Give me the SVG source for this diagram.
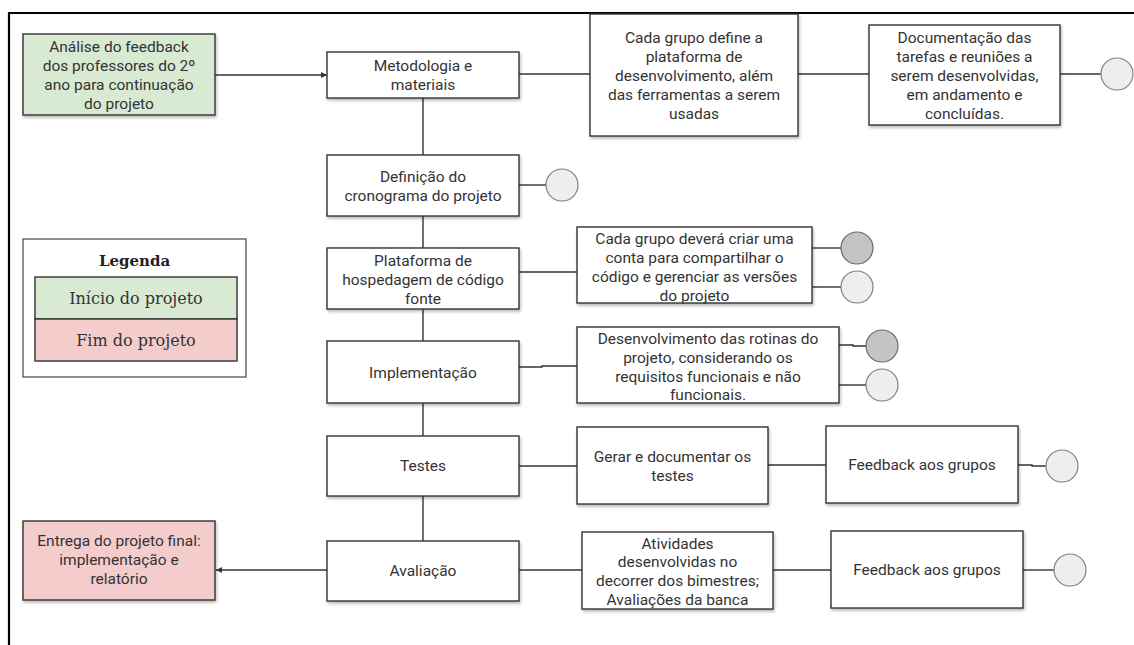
<svg xmlns="http://www.w3.org/2000/svg" width="1134" height="645" viewBox="0 0 1134 645">
<style>
  .box { fill: #ffffff; stroke: #333333; stroke-width: 1.4; filter: url(#sh); }
  .start { fill: #d9ead3; stroke: #333333; stroke-width: 1.4; filter: url(#sh); }
  .end { fill: #f4cccc; stroke: #333333; stroke-width: 1.4; filter: url(#sh); }
  .t { font-family: Roboto, "Liberation Sans", sans-serif; font-size: 15.5px; fill: #333333; text-anchor: middle; }
  .lg { font-family: "DejaVu Serif", "Liberation Serif", serif; font-size: 16px; fill: #333333; text-anchor: middle; }
  .lgb { font-family: "DejaVu Serif", "Liberation Serif", serif; font-size: 15px; font-weight: bold; fill: #222222; text-anchor: middle; }
  .c { fill: none; stroke: #333333; stroke-width: 1.4; }
  .cl { fill: #eeeeee; stroke: #808080; stroke-width: 1.2; }
  .cd { fill: #c4c4c4; stroke: #6a6a6a; stroke-width: 1.2; }
  .frame { fill: none; stroke: #000000; stroke-width: 2.2; }
</style>
<defs>
  <filter id="sh" x="-10%" y="-10%" width="130%" height="140%">
    <feDropShadow dx="1" dy="2" stdDeviation="1.5" flood-color="#000000" flood-opacity="0.28"/>
  </filter>
  <marker id="arr" viewBox="0 0 8 8" refX="8" refY="4" markerWidth="6" markerHeight="6" orient="auto" markerUnits="userSpaceOnUse">
    <path d="M0,0 L8,4 L0,8 z" fill="#333333"/>
  </marker>
</defs>
<rect x="0" y="0" width="1134" height="645" fill="#ffffff"/>
<path class="frame" d="M9,645 L9,13 L1134,13"/>

<g id="connectors">
  <line class="c" x1="215" y1="75" x2="327" y2="75" marker-end="url(#arr)"/>
  <line class="c" x1="519" y1="74" x2="590" y2="74"/>
  <line class="c" x1="798" y1="74" x2="869" y2="74"/>
  <line class="c" x1="1060" y1="74" x2="1101" y2="74"/>
  <line class="c" x1="423" y1="98" x2="423" y2="155"/>
  <line class="c" x1="519" y1="185" x2="546" y2="185"/>
  <line class="c" x1="423" y1="216" x2="423" y2="248"/>
  <line class="c" x1="519" y1="272" x2="577" y2="272"/>
  <line class="c" x1="812" y1="248" x2="841" y2="248"/>
  <line class="c" x1="812" y1="287" x2="841" y2="287"/>
  <line class="c" x1="423" y1="309" x2="423" y2="341"/>
  <path class="c" d="M519,367 L542,367 L542,366 L577,366"/>
  <path class="c" d="M839,345 L853,345 L853,346 L866,346"/>
  <line class="c" x1="839" y1="385" x2="866" y2="385"/>
  <line class="c" x1="423" y1="403" x2="423" y2="436"/>
  <line class="c" x1="519" y1="466" x2="577" y2="466"/>
  <line class="c" x1="768" y1="465" x2="826" y2="465"/>
  <path class="c" d="M1018,465 L1032,465 L1032,466 L1046,466"/>
  <line class="c" x1="423" y1="496" x2="423" y2="541"/>
  <line class="c" x1="327" y1="570" x2="216" y2="570" marker-end="url(#arr)"/>
  <line class="c" x1="519" y1="570" x2="582" y2="570"/>
  <line class="c" x1="773" y1="570" x2="831" y2="570"/>
  <line class="c" x1="1023" y1="570" x2="1054" y2="570"/>
</g>

<g id="inicio">
  <rect class="start" x="23" y="34" width="192" height="81"/>
  <text class="t" x="119" y="52">Análise do feedback</text>
  <text class="t" x="119" y="71">dos professores do 2º</text>
  <text class="t" x="119" y="90">ano para continuação</text>
  <text class="t" x="119" y="109">do projeto</text>
</g>

<g id="metodologia">
  <rect class="box" x="327" y="52" width="192" height="46"/>
  <text class="t" x="423" y="71">Metodologia e</text>
  <text class="t" x="423" y="90">materiais</text>
</g>

<g id="plataforma-dev">
  <rect class="box" x="590" y="14" width="208" height="122"/>
  <text class="t" x="694" y="43">Cada grupo define a</text>
  <text class="t" x="694" y="62">plataforma de</text>
  <text class="t" x="694" y="81">desenvolvimento, além</text>
  <text class="t" x="694" y="100">das ferramentas a serem</text>
  <text class="t" x="694" y="119">usadas</text>
</g>

<g id="documentacao">
  <rect class="box" x="869" y="25" width="191" height="100"/>
  <text class="t" x="964.5" y="43">Documentação das</text>
  <text class="t" x="964.5" y="62">tarefas e reuniões a</text>
  <text class="t" x="964.5" y="81">serem desenvolvidas,</text>
  <text class="t" x="964.5" y="100">em andamento e</text>
  <text class="t" x="964.5" y="119">concluídas.</text>
</g>
<g id="circulo-doc"><circle class="cl" cx="1117" cy="74" r="16"/></g>

<g id="cronograma">
  <rect class="box" x="327" y="155" width="192" height="61"/>
  <text class="t" x="423" y="182">Definição do</text>
  <text class="t" x="423" y="201">cronograma do projeto</text>
</g>
<g id="circulo-cron"><circle class="cl" cx="562" cy="185" r="16"/></g>

<g id="legenda">
  <rect x="23" y="239" width="223" height="138" fill="#ffffff" stroke="#444444" stroke-width="1.2"/>
  <text class="lgb" x="134.5" y="266">Legenda</text>
  <rect x="35" y="277" width="202" height="42" fill="#d9ead3" stroke="#333333" stroke-width="1.4"/>
  <text class="lg" x="136" y="304">Início do projeto</text>
  <rect x="35" y="319" width="202" height="42" fill="#f4cccc" stroke="#333333" stroke-width="1.4"/>
  <text class="lg" x="136" y="346">Fim do projeto</text>
</g>

<g id="hospedagem">
  <rect class="box" x="327" y="248" width="192" height="61"/>
  <text class="t" x="423" y="266">Plataforma de</text>
  <text class="t" x="423" y="285">hospedagem de código</text>
  <text class="t" x="423" y="304">fonte</text>
</g>

<g id="conta">
  <rect class="box" x="577" y="227" width="235" height="76"/>
  <text class="t" x="694.5" y="244">Cada grupo deverá criar uma</text>
  <text class="t" x="694.5" y="263">conta para compartilhar o</text>
  <text class="t" x="694.5" y="282">código e gerenciar as versões</text>
  <text class="t" x="694.5" y="300.5">do projeto</text>
</g>
<g id="circulo-conta-1"><circle class="cd" cx="857" cy="248" r="16"/></g>
<g id="circulo-conta-2"><circle class="cl" cx="857" cy="287" r="16"/></g>

<g id="implementacao">
  <rect class="box" x="327" y="341" width="192" height="62"/>
  <text class="t" x="423" y="378">Implementação</text>
</g>

<g id="rotinas">
  <rect class="box" x="577" y="327" width="262" height="76"/>
  <text class="t" x="708" y="343.5">Desenvolvimento das rotinas do</text>
  <text class="t" x="708" y="362.5">projeto, considerando os</text>
  <text class="t" x="708" y="381.5">requisitos funcionais e não</text>
  <text class="t" x="708" y="400">funcionais.</text>
</g>
<g id="circulo-rotinas-1"><circle class="cd" cx="882" cy="346" r="16"/></g>
<g id="circulo-rotinas-2"><circle class="cl" cx="882" cy="385" r="16"/></g>

<g id="testes">
  <rect class="box" x="327" y="436" width="192" height="60"/>
  <text class="t" x="423" y="471">Testes</text>
</g>

<g id="gerar">
  <rect class="box" x="577" y="427" width="191" height="77"/>
  <text class="t" x="672.5" y="462">Gerar e documentar os</text>
  <text class="t" x="672.5" y="481">testes</text>
</g>

<g id="feedback-1">
  <rect class="box" x="826" y="426" width="192" height="77"/>
  <text class="t" x="922" y="470">Feedback aos grupos</text>
</g>
<g id="circulo-feedback-1"><circle class="cl" cx="1062" cy="466" r="16"/></g>

<g id="entrega">
  <rect class="end" x="23" y="521" width="192" height="79"/>
  <text class="t" x="119" y="546">Entrega do projeto final:</text>
  <text class="t" x="119" y="565">implementação e</text>
  <text class="t" x="119" y="584">relatório</text>
</g>

<g id="avaliacao">
  <rect class="box" x="327" y="541" width="192" height="60"/>
  <text class="t" x="423" y="576">Avaliação</text>
</g>

<g id="atividades">
  <rect class="box" x="582" y="532" width="191" height="77"/>
  <text class="t" x="677.5" y="548.5">Atividades</text>
  <text class="t" x="677.5" y="567">desenvolvidas no</text>
  <text class="t" x="677.5" y="586">decorrer dos bimestres;</text>
  <text class="t" x="677.5" y="604.5">Avaliações da banca</text>
</g>

<g id="feedback-2">
  <rect class="box" x="831" y="531" width="192" height="77"/>
  <text class="t" x="927" y="575">Feedback aos grupos</text>
</g>
<g id="circulo-feedback-2"><circle class="cl" cx="1070" cy="570" r="16"/></g>
</svg>
